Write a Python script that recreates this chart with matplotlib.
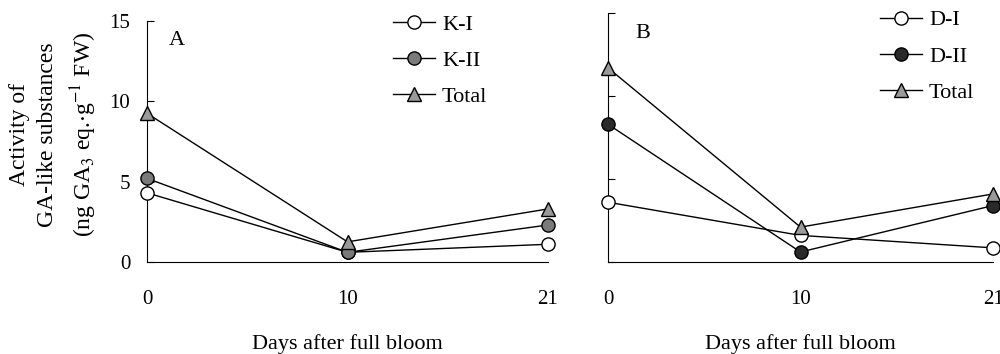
import matplotlib
matplotlib.use("Agg")
import matplotlib.pyplot as plt

plt.rcParams['font.family'] = ['Liberation Serif', 'DejaVu Serif']
plt.rcParams['mathtext.fontset'] = 'stix'

days = ["0", "10", "21"]

# panel A
k1 = [4.3, 0.6, 1.1]
k2 = [5.2, 0.6, 2.3]
total_a = [9.25, 1.25, 3.3]

# panel B
d1 = [3.6, 1.6, 0.85]
d2 = [8.3, 0.6, 3.4]
total_b = [11.7, 2.1, 4.1]

fig = plt.figure(figsize=(10, 3.54), dpi=100)
ax_a = fig.add_axes([0.147, 0.260, 0.401, 0.681])
ax_b = fig.add_axes([0.608, 0.260, 0.385, 0.703])

x = list(range(len(days)))


def draw_panel(ax, series, letter, letter_pos, show_ylabels, legend_anchor):
    for vals, label, marker, face in series:
        ax.plot(x, vals, color='black', lw=1.0, marker=marker, ms=9.5,
                mfc=face, mec='black', mew=1.0, label=label, clip_on=False,
                zorder=3)
    ax.set_xlim(0, 2)
    ax.set_ylim(0, 15)
    ax.set_yticks([0, 5, 10, 15])
    ax.set_xticks(x)
    ax.set_xticklabels(days)
    ax.spines['top'].set_visible(False)
    ax.spines['right'].set_visible(False)
    ax.tick_params(axis='y', direction='in', length=5, pad=12, labelsize=15,
                   labelleft=show_ylabels)
    ax.tick_params(axis='x', length=0, pad=20, labelsize=15)
    ax.set_xlabel("Days after full bloom", fontsize=16, labelpad=18)
    ax.text(letter_pos[0], letter_pos[1], letter, transform=ax.transAxes,
            fontsize=16, ha='center', va='center')
    ax.legend(loc='upper left', bbox_to_anchor=legend_anchor,
              bbox_transform=fig.transFigure, frameon=False, fontsize=16,
              borderaxespad=0, borderpad=0, handlelength=1.9,
              handletextpad=0.3, labelspacing=0.7)


draw_panel(ax_a, [(k1, "K-I", 'o', 'white'),
                  (k2, "K-II", 'o', '#7a7a7a'),
                  (total_a, "Total", '^', '#9a9a9a')],
           "A", (0.075, 0.92), True, (0.393, 0.96))
draw_panel(ax_b, [(d1, "D-I", 'o', 'white'),
                  (d2, "D-II", 'o', '#2a2a2a'),
                  (total_b, "Total", '^', '#9a9a9a')],
           "B", (0.09, 0.92), False, (0.880, 0.972))

fig.text(0.054, 0.62,
         "Activity of\nGA-like substances\n(ng GA$_3$ eq.$\\cdot$g$^{-1}$ FW)",
         rotation=90, ha='center', va='center', fontsize=17, linespacing=1.45,
         multialignment='center')

fig.savefig("out.png", dpi=100)
